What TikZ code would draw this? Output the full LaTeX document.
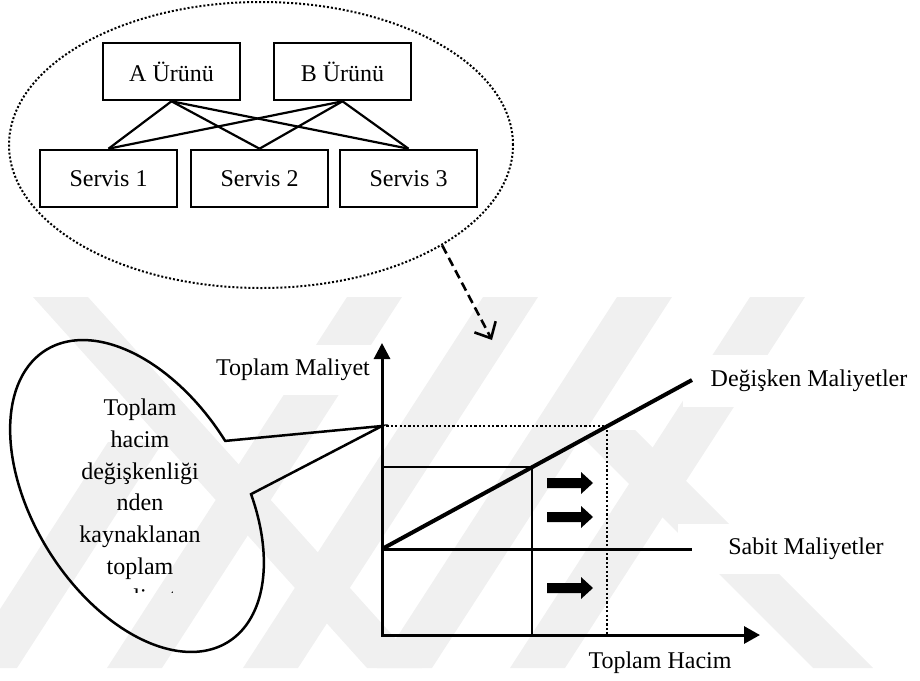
\documentclass[tikz,border=0pt]{standalone}
\usepackage{fontspec}
\setmainfont{Liberation Serif}
\usetikzlibrary{arrows.meta,shapes.geometric}

\begin{document}
\begin{tikzpicture}[x=1pt,y=-1pt,
  font=\fontsize{24pt}{28pt}\selectfont,
  box/.style={draw, line width=2.6pt, minimum width=137pt, minimum height=57pt, inner sep=0pt},
  link/.style={line width=2.2pt},
  wm/.style={fill=black!6},
  lab/.style={fill=white, inner xsep=6pt, inner ysep=14pt},
  axis/.style={line width=3pt},
  thin/.style={line width=2.3pt},
  dotline/.style={line width=2.2pt, dash pattern=on 2.2pt off 2.2pt},
  blockarrow/.pic={\fill (0,-5) -- (34,-5) -- (34,-11) -- (46,0) -- (34,11) -- (34,5) -- (0,5) -- cycle;}
]
\useasboundingbox (0,0) rectangle (920,680);

% faint diagonal background bands
\begin{scope}
  \clip (0,297) rectangle (920,668);
  \foreach \t in {347,483,617,750}
    \fill[wm] (\t,297) -- ++(55,0) -- ++(-240,371) -- ++(-55,0) -- cycle;
  \fill[wm] (33,297) -- ++(55,0) -- ++(334,371) -- ++(-55,0) -- cycle;
  \fill[wm] (108,442) -- ++(55,0) -- ++(-146,226) -- ++(-55,0) -- cycle;
  \fill[wm] (575,430) -- ++(60,0) -- ++(238,238) -- ++(-60,0) -- cycle;
\end{scope}

% products and services
\node[draw, ellipse, line width=2pt, dash pattern=on 2pt off 2pt,
      minimum width=504pt, minimum height=286pt, inner sep=0pt] (grp) at (261,145) {};
\node[box] (A) at (171.5,71.5) {A Ürünü};
\node[box] (B) at (342.5,71.5) {B Ürünü};
\node[box] (S1) at (108.5,178.5) {Servis 1};
\node[box] (S2) at (259.5,178.5) {Servis 2};
\node[box] (S3) at (408.5,178.5) {Servis 3};
\foreach \p in {A,B}
  \foreach \s in {S1,S2,S3}
    \draw[link] (\p.south) -- (\s.north);

\coordinate (drop) at (492,340);
\draw[line width=2.6pt, dash pattern=on 9pt off 5pt,
      -{Straight Barb[length=13pt,width=24pt,line width=2.6pt]}] (grp.-29.7) -- (drop);

% cost chart
\node[lab, inner xsep=10pt] (ylab) at (293,370) {Toplam Maliyet};
\node[lab, inner xsep=28pt, inner ysep=15pt] (dlab) at (809,381) {Değişken Maliyetler};
\node[lab, inner xsep=50pt, inner ysep=14pt] (slab) at (806,549) {Sabit Maliyetler};
\node (xlab) at (660,663) {Toplam Hacim};

\coordinate (O) at (382,635);
\coordinate (ytop) at (382,343);
\coordinate (xend) at (760,635);
\coordinate (F) at (382,549);
\coordinate (Fend) at (692,549);
\coordinate (Vend) at (692,380);
\coordinate (Q1) at (532,467);
\coordinate (Q2) at (607,426);
\coordinate (Q1y) at (382,467);
\coordinate (Q2y) at (382,426);
\coordinate (Q1x) at (532,635);
\coordinate (Q2x) at (607,635);

\draw[thin] (Q1y) -- (Q1) -- (Q1x);
\draw[dotline] (Q2y) -- (Q2) -- (Q2x);
\draw[line width=3pt] (F) -- (Fend);
\draw[line width=4pt] (F) -- (Vend);
\draw[axis, {Triangle[length=16pt,width=16pt]}-{Triangle[length=16pt,width=17pt]}] (ytop) -- (O) -- (xend);

\pic at (547,483) {blockarrow};
\pic at (547,517) {blockarrow};
\pic at (547,588) {blockarrow};

% speech bubble pointing at the total cost level
\draw[line width=2.5pt, line join=miter]
  plot[domain=-70:270, samples=120, smooth]
    ({137 + 91.2*cos(\x) - 88.2*sin(\x)}, {496 + 145.9*cos(\x) + 55.1*sin(\x)})
  -- (Q2y) -- cycle;

\begin{scope}
  \clip (0,300) rectangle (300,592);
  \node[align=center, font=\fontsize{24pt}{31.7pt}\selectfont] (btxt) at (140,505)
    {Toplam\\hacim\\değişkenliği\\nden\\kaynaklanan\\toplam\\maliyet};
\end{scope}
\end{tikzpicture}
\end{document}
